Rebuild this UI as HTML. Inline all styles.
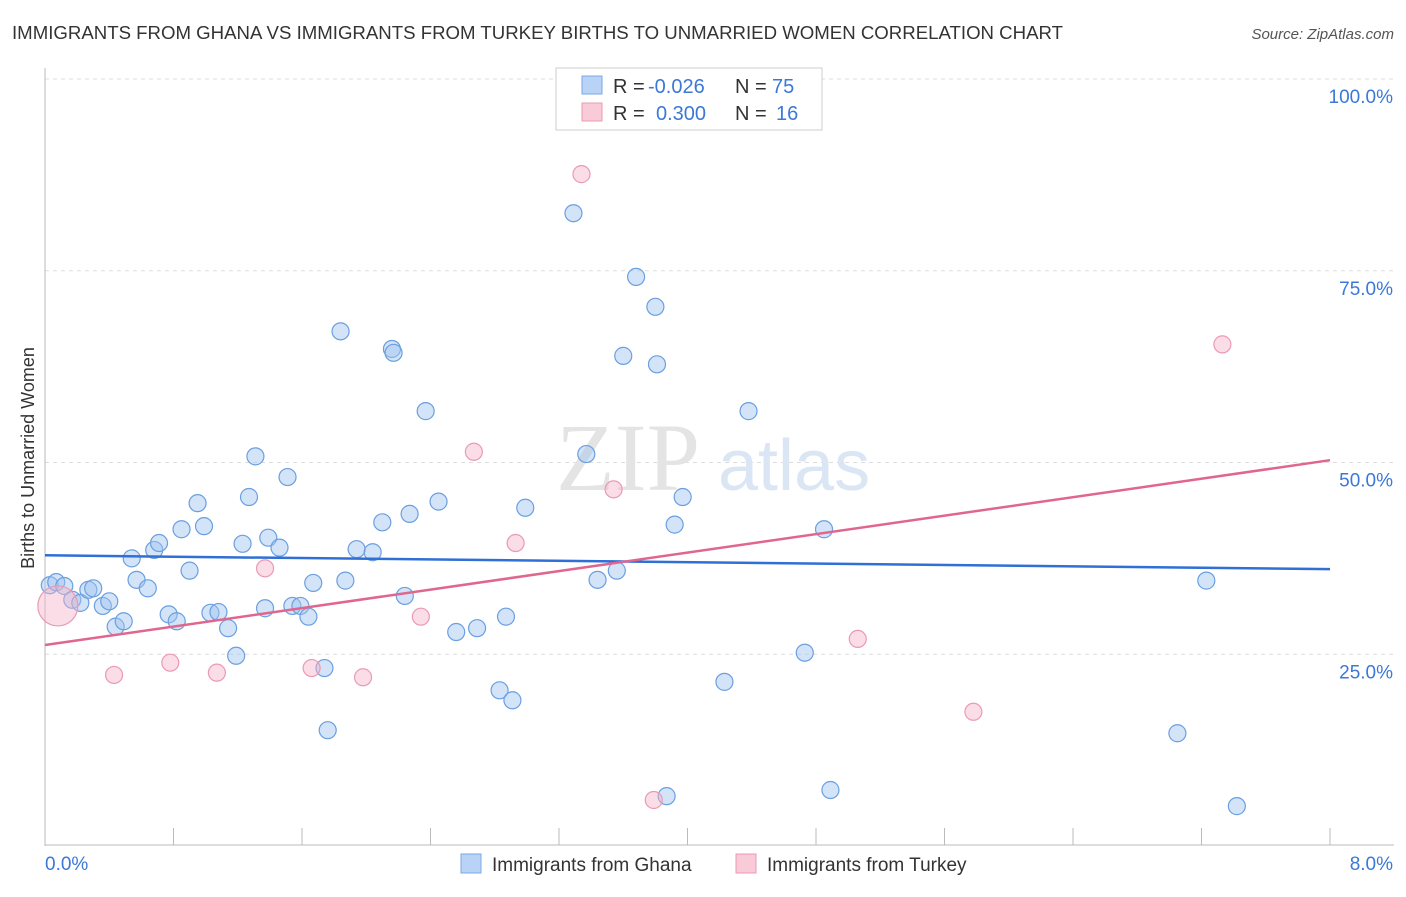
<!DOCTYPE html>
<html><head><meta charset="utf-8"><style>
body{margin:0;background:#fff;font-family:"Liberation Sans",sans-serif;}
</style></head><body>
<svg width="1406" height="892" xmlns="http://www.w3.org/2000/svg" font-family="Liberation Sans, sans-serif">
<text x="12" y="39" font-size="18" fill="#333" textLength="1051" lengthAdjust="spacingAndGlyphs">IMMIGRANTS FROM GHANA VS IMMIGRANTS FROM TURKEY BIRTHS TO UNMARRIED WOMEN CORRELATION CHART</text>
<text x="1394" y="39" font-size="15" fill="#555" text-anchor="end" font-style="italic">Source: ZipAtlas.com</text>
<g id="grid"></g>
<text x="700" y="490" font-size="96" fill="#e4e4e4" text-anchor="end" font-family="Liberation Serif, serif">ZIP</text>
<text x="718" y="490" font-size="72" fill="#dbe6f5">atlas</text>
<line x1="45" y1="68" x2="45" y2="846" stroke="#bbb"/>
<line x1="45" y1="845" x2="1394" y2="845" stroke="#bbb"/>
<g id="ticks"></g>
<g id="ylabels"></g>
<text x="45" y="870" font-size="19" fill="#3b78d8">0.0%</text>
<text x="1393" y="870" font-size="19" fill="#3b78d8" text-anchor="end">8.0%</text>
<text transform="translate(34,458) rotate(-90)" font-size="18" fill="#333" text-anchor="middle">Births to Unmarried Women</text>
<g id="pts"></g>
<g id="lines"></g>
<g font-size="20">
<rect x="556" y="68" width="266" height="62" fill="#fff" stroke="#ccc"/>
<rect x="582" y="76" width="20" height="18" fill="#b8d3f5" stroke="#7aa8e6"/>
<rect x="582" y="103" width="20" height="18" fill="#f9cbd8" stroke="#ec9ab4"/>
<text x="613" y="93" fill="#333">R =</text>
<text x="648" y="93" fill="#3b78d8">-0.026</text>
<text x="735" y="93" fill="#333">N =</text>
<text x="772" y="93" fill="#3b78d8">75</text>
<text x="613" y="120" fill="#333">R =</text>
<text x="656" y="120" fill="#3b78d8">0.300</text>
<text x="735" y="120" fill="#333">N =</text>
<text x="776" y="120" fill="#3b78d8">16</text>
</g>
<g>
<rect x="461" y="854" width="20" height="19" fill="#b8d3f5" stroke="#7aa8e6"/>
<text x="492" y="871" font-size="19" fill="#333">Immigrants from Ghana</text>
<rect x="736" y="854" width="20" height="19" fill="#f9cbd8" stroke="#ec9ab4"/>
<text x="767" y="871" font-size="19" fill="#333">Immigrants from Turkey</text>
</g>
</svg>
<script>
const ghanaX=[0.03,0.07,0.12,0.17,0.22,0.27,0.30,0.36,0.40,0.44,0.49,0.54,0.57,0.64,0.68,0.71,0.77,0.82,0.85,0.90,0.95,0.99,1.03,1.08,1.14,1.19,1.23,1.31,1.27,1.37,1.39,1.46,1.51,1.54,1.59,1.64,1.67,1.74,1.76,1.84,1.87,1.94,2.04,2.10,2.16,2.17,2.24,2.27,2.37,2.45,2.56,2.69,2.83,2.87,2.91,2.99,3.29,3.37,3.44,3.56,3.60,3.68,3.81,3.80,3.87,3.92,3.97,4.23,4.38,4.73,4.85,4.89,7.05,7.23,7.42];
const ghanaY=[34.0,34.4,33.9,32.1,31.7,33.4,33.6,31.3,31.9,28.6,29.3,37.5,34.7,33.6,38.6,39.5,30.2,29.3,41.3,35.9,44.7,41.7,30.4,30.5,28.4,24.8,39.4,50.8,45.5,31.0,40.2,38.9,48.1,31.3,31.3,29.9,34.3,23.2,15.1,67.1,34.6,38.7,38.3,42.2,64.8,64.3,32.6,43.3,56.7,44.9,27.9,28.4,20.3,29.9,19.0,44.1,82.5,51.1,34.7,35.9,63.9,74.2,62.8,70.3,6.5,41.9,45.5,21.4,56.7,25.2,41.3,7.3,14.7,34.6,5.2];
const turkeyX=[0.08,0.43,0.78,1.07,1.37,1.66,1.98,2.34,2.67,2.93,3.34,3.54,3.79,5.06,5.78,7.33];
const turkeyY=[31.3,22.3,23.9,22.6,36.2,23.2,22.0,29.9,51.4,39.5,87.6,46.5,6.0,27.0,17.5,65.4];
const turkeyR=[20,8.5,8.5,8.5,8.5,8.5,8.5,8.5,8.5,8.5,8.5,8.5,8.5,8.5,8.5,8.5];
const ghanaTrend=[37.9,36.1];
const turkeyTrend=[26.2,50.3];
const yTicks=[25,50,75,100];
const xTickVals=[0,0.8,1.6,2.4,3.2,4.0,4.8,5.6,6.4,7.2,8.0];
const NS="http://www.w3.org/2000/svg";
const sx=v=>45+v/8*1285, sy=v=>846-v/100*767;
function mk(t,a,p){const e=document.createElementNS(NS,t);for(const k in a)e.setAttribute(k,a[k]);p.appendChild(e);return e;}
const grid=document.getElementById('grid'),yl=document.getElementById('ylabels');
yTicks.forEach(v=>{
 const l=mk('line',{x1:45,x2:1394,y1:sy(v),y2:sy(v),stroke:'#ddd','stroke-dasharray':'4,4'},grid);
 
 
 const t=mk('text',{x:1393,y:sy(v)+24,'font-size':19,fill:'#3b78d8','text-anchor':'end'},yl);
 t.textContent=v.toFixed(1)+'%';
 
 
});
const tk=document.getElementById('ticks');
xTickVals.forEach(v=>{
 const l=mk('line',{x1:sx(v),x2:sx(v),y1:828,y2:845,stroke:'#bbb'},tk);
 
 
});
const pts=document.getElementById('pts');
ghanaX.forEach((x,i)=>{
 const c=mk('circle',{cx:sx(x),cy:sy(ghanaY[i]),r:8.5,fill:'rgba(160,195,240,0.45)',stroke:'#6a9fe0','stroke-width':1.2},pts);
 
 
});
turkeyX.forEach((x,i)=>{
 const c=mk('circle',{cx:sx(x),cy:sy(turkeyY[i]),r:turkeyR[i],fill:'rgba(245,180,200,0.45)',stroke:'#eb9ab3','stroke-width':1.2},pts);
 
 
});
const ln=document.getElementById('lines');
const b=mk('line',{x1:sx(0),y1:sy(ghanaTrend[0]),x2:sx(8),y2:sy(ghanaTrend[1]),stroke:'#2f6fd6','stroke-width':2.5},ln);


const p=mk('line',{x1:sx(0),y1:sy(turkeyTrend[0]),x2:sx(8),y2:sy(turkeyTrend[1]),stroke:'#e0668e','stroke-width':2.5},ln);


</script>
</body></html>
